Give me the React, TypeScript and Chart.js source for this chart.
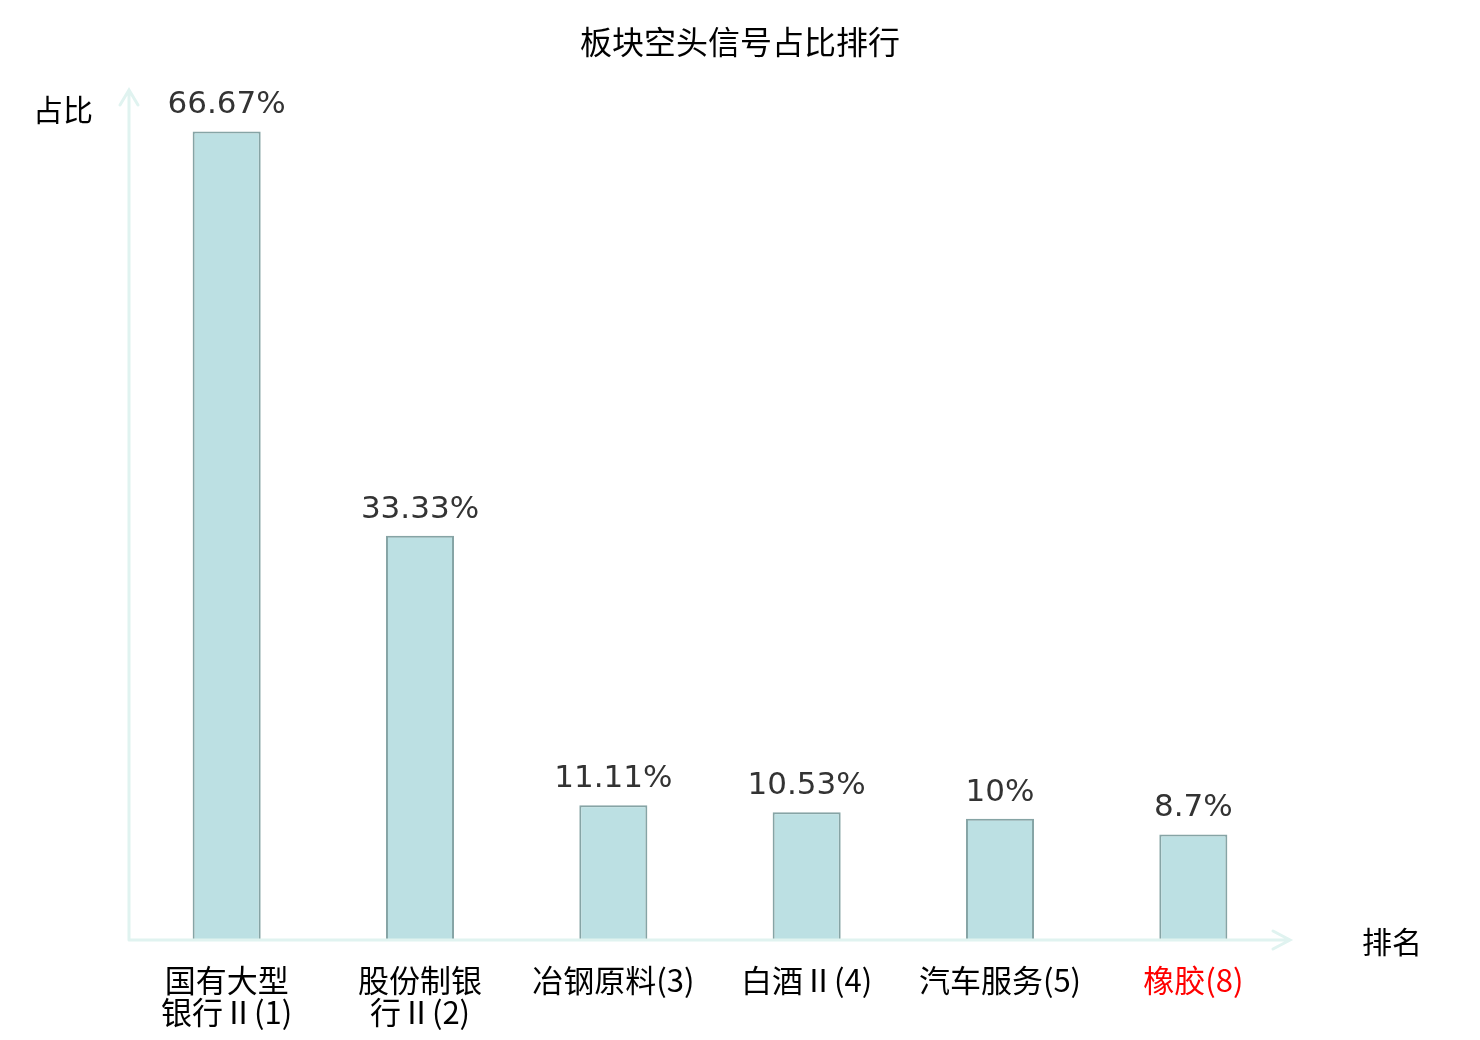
import { useEffect, useRef } from 'react';
import Chart from 'chart.js/auto';

const CATEGORIES: (string | string[])[] = [
  ['国有大型', '银行Ⅱ(1)'],
  ['股份制银', '行Ⅱ(2)'],
  '冶钢原料(3)',
  '白酒Ⅱ(4)',
  '汽车服务(5)',
  '橡胶(8)',
];
const RATIOS = [66.67, 33.33, 11.11, 10.53, 10, 8.7];
const HIGHLIGHT = [false, false, false, false, false, true];

const CJK_FONT = '"Noto Sans CJK SC", "Noto Sans", sans-serif';
const TICK_FONT = '"DejaVu Sans ExtraLight", "Noto Sans CJK SC", sans-serif';
const NUM_FONT = '"DejaVu Sans", sans-serif';
const AXIS_COLOR = '#e0f3f0';

// title, axis arrows, axis names and value labels
const decorPlugin = {
  id: 'decor',
  afterDraw(chart: any) {
    const { ctx, chartArea } = chart;
    const { left, right, top, bottom } = chartArea;
    ctx.save();

    ctx.strokeStyle = AXIS_COLOR;
    ctx.lineWidth = 3;
    ctx.lineCap = 'round';
    ctx.beginPath();
    ctx.moveTo(left - 1, bottom);
    ctx.lineTo(left - 1, top - 1);
    ctx.moveTo(left - 10, top + 14);
    ctx.lineTo(left - 1, top - 1);
    ctx.lineTo(left + 8, top + 14);
    ctx.moveTo(left - 1, bottom);
    ctx.lineTo(right, bottom);
    ctx.moveTo(right - 17, bottom - 9);
    ctx.lineTo(right, bottom);
    ctx.lineTo(right - 17, bottom + 9);
    ctx.stroke();

    ctx.fillStyle = '#000';
    ctx.textAlign = 'center';
    ctx.textBaseline = 'middle';
    ctx.font = `32px ${CJK_FONT}`;
    ctx.fillText('板块空头信号占比排行', chart.width / 2, 42);
    ctx.font = `30px ${CJK_FONT}`;
    ctx.fillText('占比', 63, 110);
    ctx.fillText('排名', 1392, 942);

    ctx.fillStyle = '#333';
    ctx.font = `31px ${NUM_FONT}`;
    ctx.textBaseline = 'alphabetic';
    chart.getDatasetMeta(0).data.forEach((bar: any, i: number) => {
      ctx.fillText(`${RATIOS[i]}%`, bar.x, bar.y - 18);
    });
    ctx.restore();
  },
};

export default function App() {
  const canvasRef = useRef<HTMLCanvasElement>(null);

  useEffect(() => {
    document.body.style.margin = '0';
    if (!canvasRef.current) return;
    const chart = new Chart(canvasRef.current, {
      type: 'bar',
      data: {
        labels: CATEGORIES,
        datasets: [
          {
            data: RATIOS,
            backgroundColor: '#bce0e3',
            borderColor: '#86a4a5',
            borderWidth: 2,
            barPercentage: 0.352,
            categoryPercentage: 1,
          },
        ],
      },
      options: {
        responsive: false,
        animation: false,
        layout: { padding: { left: 130, right: 190, top: 91, bottom: 0 } },
        plugins: {
          legend: { display: false },
          title: { display: false },
          tooltip: { enabled: false },
        },
        scales: {
          x: {
            grid: { display: false, drawTicks: false },
            border: { display: false },
            ticks: {
              padding: 24,
              maxRotation: 0,
              autoSkip: false,
              font: { family: TICK_FONT, size: 31, lineHeight: 1.04 },
              color: (c: any) => (HIGHLIGHT[c.index] ? '#ff0000' : '#000'),
            },
            afterFit: (scale: any) => {
              scale.height = 100;
            },
          },
          y: {
            display: false,
            min: 0,
            max: 70,
          },
        },
      },
      plugins: [decorPlugin],
    });
    return () => chart.destroy();
  }, []);

  return (
    <div style={{ width: 1480, height: 1040, background: '#fff' }}>
      <canvas ref={canvasRef} width={1480} height={1040} />
    </div>
  );
}
